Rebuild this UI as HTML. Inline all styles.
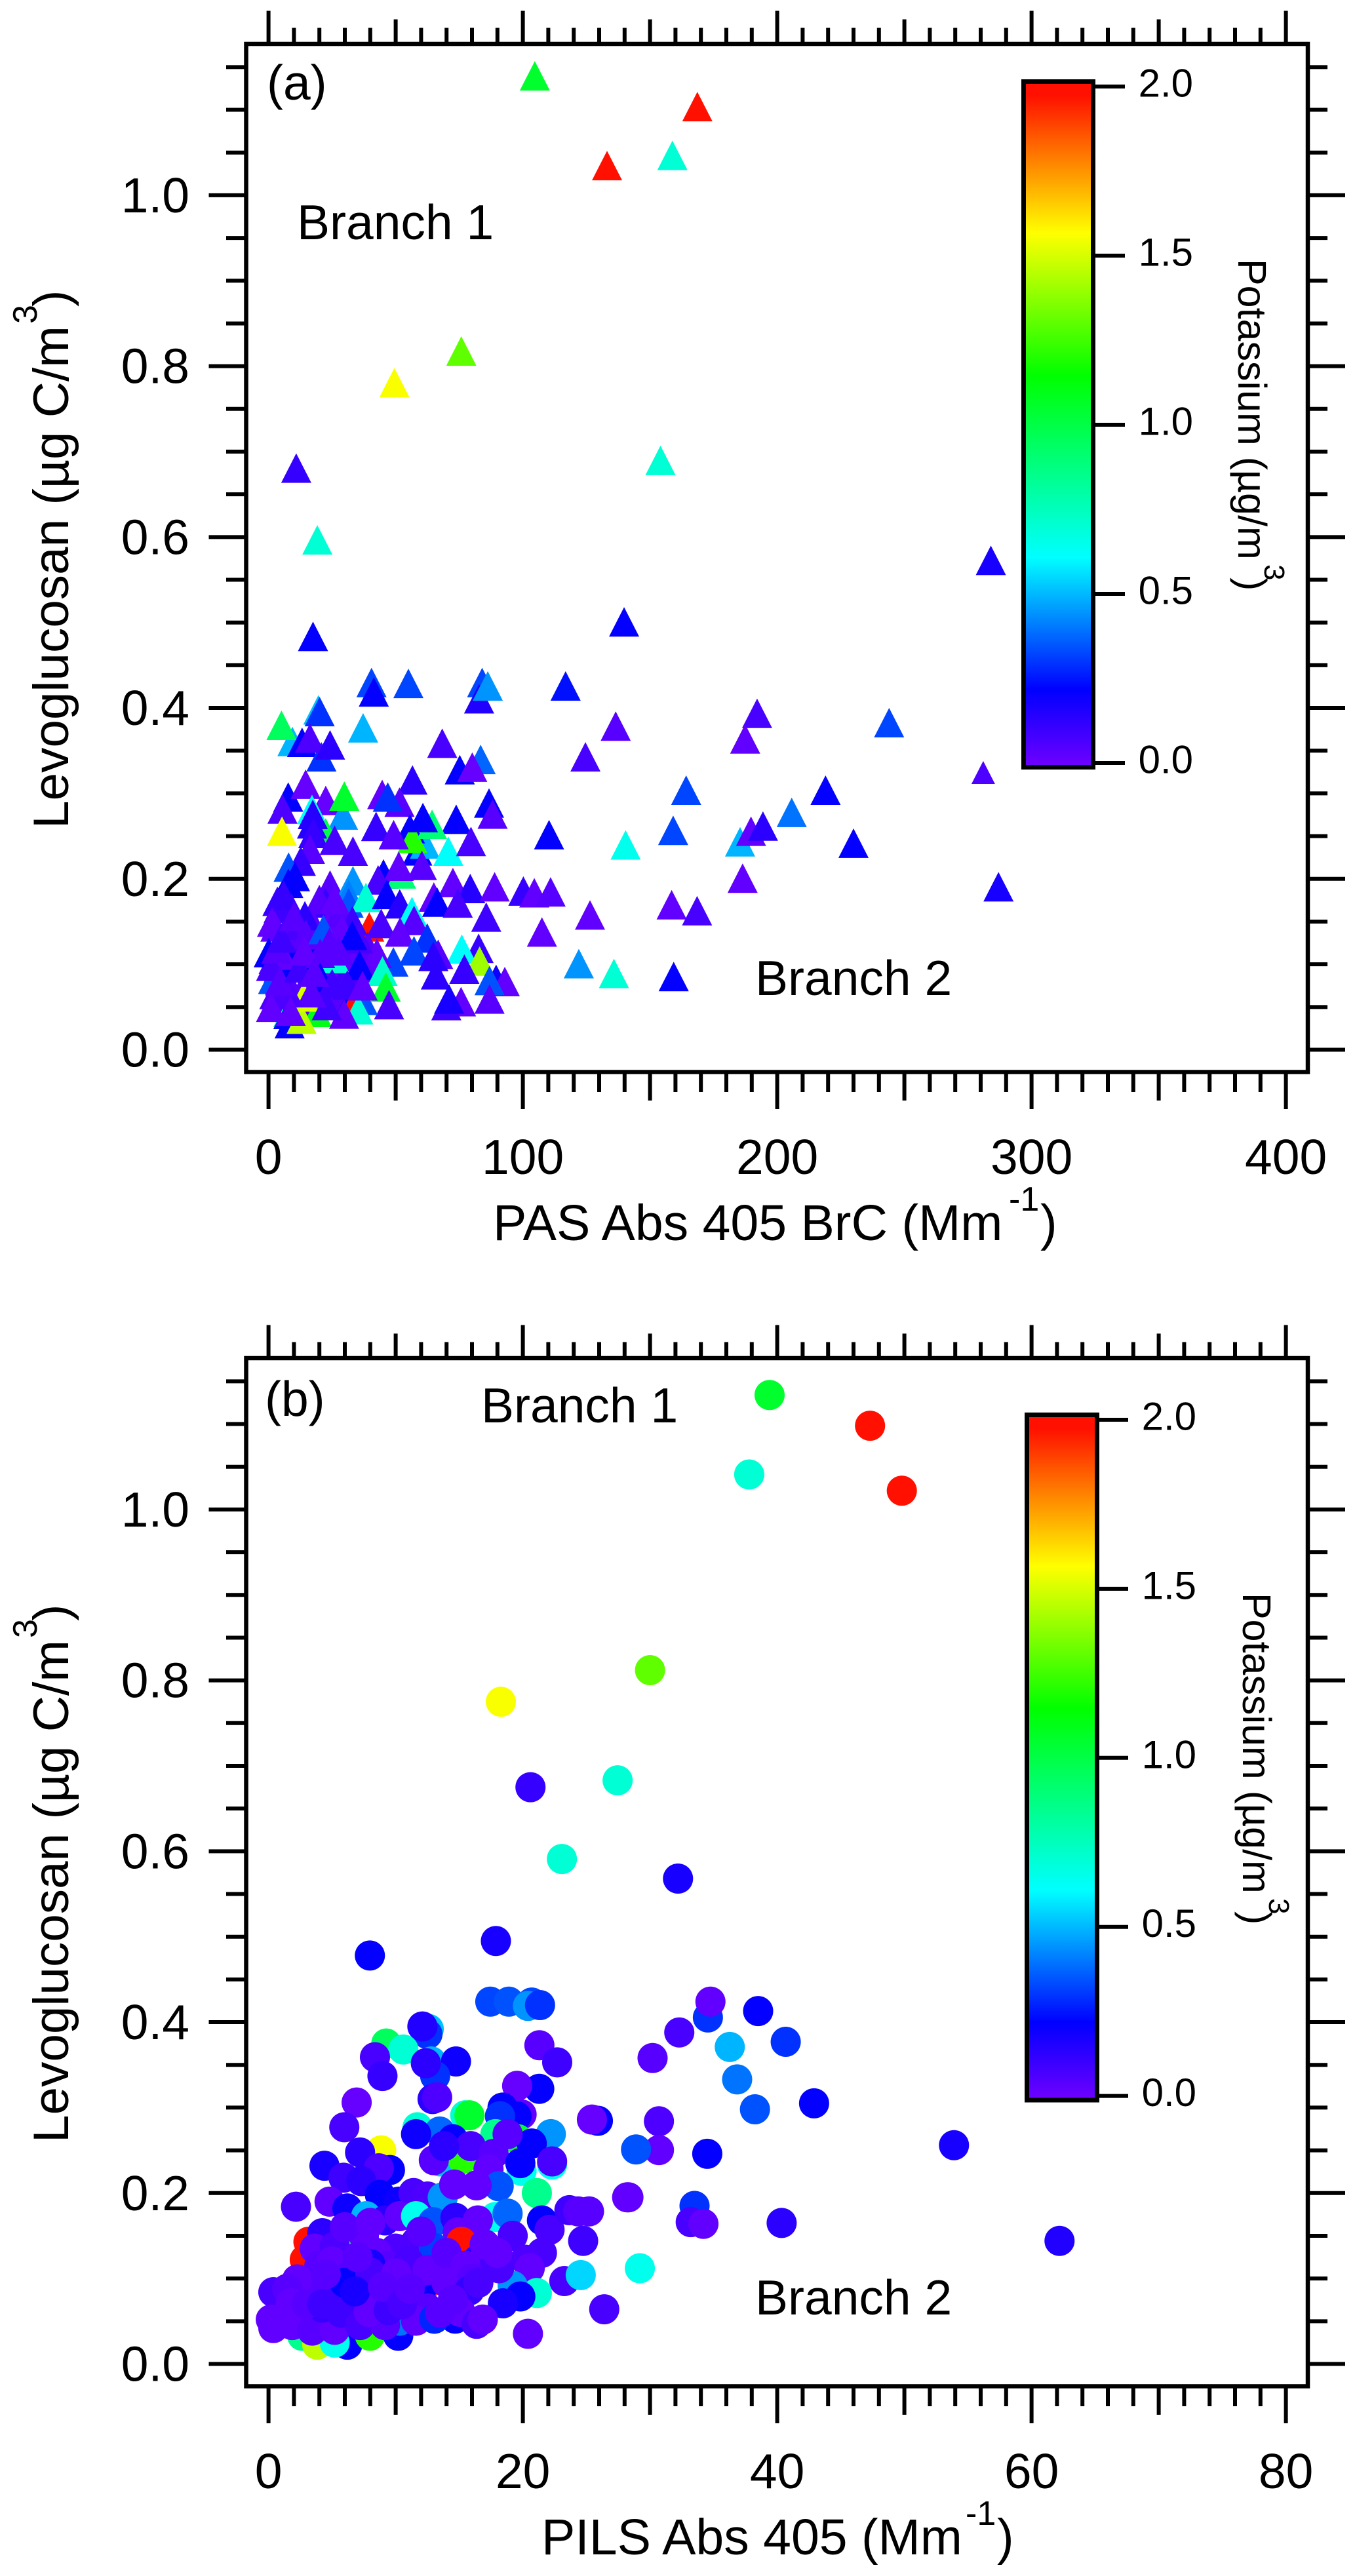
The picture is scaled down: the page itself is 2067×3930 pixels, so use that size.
<!DOCTYPE html>
<html lang="en">
<head>
<meta charset="utf-8">
<title>Levoglucosan vs absorption, coloured by potassium</title>
<style>
  html, body { margin: 0; padding: 0; background: #fff; }
  svg { display: block; }
  text { font-family: "Liberation Sans", "DejaVu Sans", sans-serif; fill: #000; }
</style>
</head>
<body>
<svg id="figure" xmlns="http://www.w3.org/2000/svg" width="2067" height="3930" viewBox="0 0 2067 3930">
  <defs>
    <linearGradient id="rainbow" x1="0" y1="1" x2="0" y2="0">
      <stop offset="0" stop-color="#7000ff"/>
      <stop offset="0.113" stop-color="#0000ff"/>
      <stop offset="0.306" stop-color="#00ffff"/>
      <stop offset="0.5715" stop-color="#00ff00"/>
      <stop offset="0.779" stop-color="#ffff00"/>
      <stop offset="0.98" stop-color="#ff1000"/>
      <stop offset="1" stop-color="#ff1000"/>
    </linearGradient>
  </defs>
  <rect x="0" y="0" width="2067" height="3930" fill="#fff"/>

  <g id="marks-a"></g>
  <g id="axes-a"></g>
  <rect x="1561.5" y="124.5" width="106" height="1046" fill="url(#rainbow)" stroke="#000" stroke-width="7"/>
  <g id="cbar-a"></g>

  <text x="407" y="152" font-size="75">(a)</text>
  <text x="453" y="365" font-size="75">Branch 1</text>
  <text x="1152" y="1518" font-size="75">Branch 2</text>

  <g transform="translate(104,1264) rotate(-90)">
    <text x="0" y="0" font-size="76.5">Levoglucosan (µg C/m</text>
    <text x="770" y="-48" font-size="52">3</text>
    <text x="796" y="0" font-size="76.5">)</text>
  </g>
  <g>
    <text x="752" y="1892" font-size="77">PAS Abs 405 BrC (Mm</text>
    <text x="1539" y="1847" font-size="52">-1</text>
    <text x="1587" y="1892" font-size="77">)</text>
  </g>
  <g transform="translate(1889,395) rotate(90)">
    <text x="0" y="0" font-size="61">Potassium (µg/m</text>
    <text x="466" y="-40" font-size="44">3</text>
    <text x="486" y="0" font-size="61">)</text>
  </g>

  <g id="marks-b"></g>
  <g id="axes-b"></g>
  <rect x="1566.5" y="2158.5" width="107" height="1045.5" fill="url(#rainbow)" stroke="#000" stroke-width="7"/>
  <g id="cbar-b"></g>

  <text x="404" y="2160" font-size="75">(b)</text>
  <text x="734" y="2170" font-size="75">Branch 1</text>
  <text x="1152" y="3531" font-size="75">Branch 2</text>

  <g transform="translate(104,3269) rotate(-90)">
    <text x="0" y="0" font-size="76.5">Levoglucosan (µg C/m</text>
    <text x="770" y="-48" font-size="52">3</text>
    <text x="796" y="0" font-size="76.5">)</text>
  </g>
  <g>
    <text x="826" y="3897" font-size="77">PILS Abs 405 (Mm</text>
    <text x="1473" y="3852" font-size="52">-1</text>
    <text x="1521" y="3897" font-size="77">)</text>
  </g>
  <g transform="translate(1896,2430) rotate(90)">
    <text x="0" y="0" font-size="61">Potassium (µg/m</text>
    <text x="466" y="-40" font-size="44">3</text>
    <text x="486" y="0" font-size="61">)</text>
  </g>
</svg>

<script>
// Panel (a): PAS Abs 405 BrC vs levoglucosan, coloured by potassium
const pasAbs = [
104.7,133.1,168.6,158.8,75.8,49.5,154.1,10.9,19.2,284,
17.5,139.8,40.5,41.4,55,84,82.8,86.2,116.8,19.6,
20.1,9.4,13.2,5.1,20.8,16.3,24.2,37.2,68.3,83.4,
75.2,80.1,124.6,56.6,7.75,14.6,22.5,5.5,44.7,51.5,
29.3,29.8,46.9,17.1,86.7,88.1,73.8,58.5,61.5,55.6,
56.6,64.3,60.7,70.7,79.6,110.3,42.3,49.2,22.5,17.4,
17.1,5.3,17.6,26,16.3,33.2,12.7,7.9,45.2,52.1,
60.3,51.2,10.4,7.8,24.2,33.2,43.1,72.5,79.3,88.9,
100.2,104.5,110.9,65,66.3,74.4,3.5,22.4,31.5,31.5,
38.3,46.5,51.6,85.6,56.4,39.6,57.2,44.3,51.7,107.5,
2,4,6,9,11,13,15,17,19,21,
23,25,27,29,31,33,35,37,39,41,
43,6,10,14,18,22,26,30,3,5,
12,17,24,28,33,9,4,20,26,6,
1.4,2.7,14.3,6.1,0.1,18.1,7.8,25.9,62.4,57.2,
82.6,76,66.7,64.8,49.1,42.6,14.7,21.6,28.9,35.3,
32.9,27.6,20.3,5.4,35.8,44.8,65.8,83,77,89.5,
92.9,86.9,86.9,75.7,69.9,71,46.1,47.4,37.1,32.8,
33.6,35.3,7.8,8.3,7.8,19,13,13.8,1.8,1,
29.7,22.9,20.3,25,31,37,16.9,2.3,7.8,1,
8.7,4.5,12,3,5,10,14,24,18,135.8,
159.3,122,136.5,192.1,187.4,244,281,164.2,219,205.7,
159.1,140.4,185.4,189.7,194.4,230,186.4,126.4,158.5,168.5,
287
];
const levoglucosanA = [
1.134,1.029,1.098,1.041,.812,.775,.684,.675,.591,.567,
.478,.495,.424,.413,.423,.424,.405,.42,.42,.392,
.39,.355,.354,.374,.337,.359,.351,.371,.353,.334,
.322,.325,.337,.31,.29,.305,.286,.276,.293,.284,
.269,.291,.29,.2755,.283,.27,.264,.227,.235,.253,
.2415,.258,.266,.2267,.238,.246,.2556,.246,.248,.2696,
.2586,.25,.2474,.2395,.229,.2267,.215,.208,.2,.2,
.21,.209,.197,.189,.187,.192,.193,.19,.183,.185,
.18,.178,.179,.173,.167,.166,.168,.166,.176,.166,
.1725,.176,.165,.1495,.156,.138,.1456,.142,.132,.132,
.1,.09,.075,.105,.125,.095,.075,.105,.125,.095,
.085,.115,.09,.075,.105,.085,.105,.095,.115,.09,
.105,.13,.06,.05,.06,.06,.05,.055,.06,.05,
.14,.145,.145,.155,.145,.16,.16,.17,.17,.175,
.1436,.138,.151,.1175,.108,.103,.096,.101,.125,.11,
.113,.112,.106,.1035,.097,.107,.129,.135,.135,.124,
.128,.11,.107,.105,.093,.0863,.082,.098,.0886,.0766,
.074,.0753,.0536,.0505,.0459,.0536,.0677,.047,.052,.055,
.0485,.041,.038,.0247,.0357,.038,.03,.056,.0766,.092,
.036,.046,.079,.0715,.07,.069,.061,.059,.061,.044,
.0395,.075,.09,.112,.125,.15,.11,.12,.085,.0835,
.08,.095,.373,.388,.358,.377,.32,.298,.298,.272,
.251,.234,.2376,.25,.256,.236,.195,.152,.164,.157,
.185
];
const potassiumA = [
1.05,2,2,.7,1.3,1.55,.7,.12,.7,.18,
.22,.22,.33,.22,.33,.33,.16,.45,.25,.52,
.3,.5,.22,.95,.3,.07,.14,.5,.08,.38,
.22,.02,.08,.14,.22,.02,.02,.07,.03,.05,
.45,1.05,.3,.62,.22,.05,.22,.22,.5,.22,
1.2,.9,.22,.62,.08,.22,.12,.05,1,.15,
.15,1.55,.12,.08,.05,.08,.12,.35,.22,.9,
.05,.03,.22,.22,.05,.45,.08,.03,.15,.03,
.12,.03,.05,.03,.22,.08,.12,.12,.42,.35,
.7,.22,.15,.1,.62,2,.05,.08,.03,.03,
.05,.03,.08,.05,.1,.03,.05,.12,.03,.08,
.03,.05,.03,.1,.05,.08,.03,.03,.05,.05,
.03,.05,.05,.03,.05,.08,.05,.05,.03,.05,
.08,.05,.03,.05,.1,.08,.1,.05,.03,.12,
.03,.03,.14,.22,.22,.22,.22,.7,.3,.33,
.12,.62,.05,.14,.33,.03,.05,.35,.03,.08,
.22,.05,.05,.03,.22,.72,.14,1.4,.12,.2,
.03,.35,.05,.03,.1,.18,1.05,.08,.35,.22,
2,.7,.72,.22,.22,1.1,1.45,1.5,.35,.08,
.03,.1,.22,.1,.1,.03,.05,.07,.07,.03,
.03,.05,.1,.05,.1,.05,.03,.05,.05,.7,
.22,.45,.05,.08,.03,.33,.07,.33,.22,.4,
.33,.65,.5,.03,.14,.22,.03,.03,.03,.08,
.18
];

// Panel (b): PILS Abs 405 vs levoglucosan, coloured by potassium
const pilsAbs = [
39.4,47.3,37.8,49.8,18.27,30,20.6,27.45,23.07,32.2,
7.97,17.88,17.44,18.9,20.7,20.4,21.35,12.6,12.5,12.1,
9.26,10.6,8.37,8.96,12.8,14.74,13.1,12.37,21.3,22.7,
21.29,19.55,12.9,13.26,6.93,5.96,11.72,13.46,11.6,15.47,
15.8,25.9,25.43,22.2,19.9,19.5,18.4,18.2,17.84,19.6,
20.7,22.3,22.3,18.8,8.86,7.2,4.4,9.55,8.67,5.9,
7.3,14.5,13.5,15.27,15.9,13,13.8,17.7,19.9,19.8,
17.3,21.1,18.1,28.3,8.76,10.24,11.4,12.5,13.7,16.36,
14.6,2.16,4.8,6.2,7.68,9.16,10.3,11.6,12.95,14.7,
17.84,18.8,16.46,14.88,21.5,22.1,23.66,24.35,25.2,24.74,
3.14,2.85,6.2,15.17,4.23,3.64,5.2,7.5,11.6,10,
13,19.2,21.5,20.2,20.54,23.26,24.55,21.1,19.2,19.8,
18.43,17.25,16.46,18.13,16.65,13.9,12.1,12.3,11.6,14.5,
4,5,6.5,8.5,9.5,11,12.5,14,15.5,3.5,
5.5,7.5,9.5,12.5,14,16,6,8,12,17,
18,2,3,6,8,10,
8,6,8,10.05,15.8,11.1,2.26,.38,1.47,1.76,
2.65,3.83,6.2,5.2,7.98,10.2,.18,.38,1.86,3.44,
5.2,4.23,5.7,7.2,10.3,9.16,7.88,9.45,11.6,13.04,
14.68,15.08,13.04,16.36,16.85,20.4,26.4,34.55,34.75,38.5,
32.3,40.67,36.27,30.2,36.85,38.25,42.9,30.7,30.7,28.9,
34.5,53.9,28.2,33.5,33.2,34.2,40.35,62.2,29.2,3,
6.8,9,4.5,7,14.5,16.5,4.23,10.5,11.1,13.5
];
const levoglucosanB = [
1.134,1.098,1.041,1.022,.775,.812,.675,.683,.591,.568,
.478,.495,.424,.424,.423,.419,.42,.392,.386,.395,
.375,.368,.359,.337,.354,.354,.337,.352,.373,.353,
.322,.3255,.31,.312,.306,.277,.277,.272,.269,.291,
.291,.2846,.286,.269,.292,.29,.3,.29,.269,.263,
.258,.2334,.237,.269,.25,.2475,.232,.227,.229,.218,
.214,.263,.237,.24,.255,.2385,.255,.246,.226,.235,
.228,.2,.208,.195,.198,.19,.2,.196,.195,.209,
.21,.184,.19,.182,.173,.168,.173,.173,.166,.171,
.172,.176,.168,.154,.168,.157,.18,.1785,.1785,.144,
.143,.122,.145,.143,.153,.135,.1375,.15,.143,.135,
.136,.15,.13,.122,.112,.097,.104,.083,.0915,.079,
.071,.125,.122,.112,.113,.113,.086,.094,.104,.084,
.115,.12,.105,.13,.115,.12,.11,.13,.115,.085,
.075,.08,.075,.065,.095,.1,.16,.165,.155,.14,
.13,.065,.055,.05,.055,.06,
.117,.095,.107,.106,.086,.076,.099,.084,.088,.071,
.033,.0225,.0225,.025,.033,.033,.052,.042,.0455,.039,
.04,.066,.06,.0455,.0506,.0455,.061,.063,.0506,.053,
.053,.061,.053,.047,.052,.0353,.064,.4055,.424,.413,
.388,.377,.371,.358,.333,.298,.305,.284,.2503,.251,
.246,.256,.195,.185,.166,.164,.165,.144,.112,.07,
.085,.09,.105,.125,.075,.095,.07,.07,.088,.06
];
const potassiumB = [
1.05,2,.7,2,1.55,1.3,.12,.7,.7,.18,
.22,.18,.33,.35,.33,.45,.3,.52,.3,.16,
.95,.7,.08,.12,.5,.2,.3,.14,.05,.1,
.22,.02,.14,.07,.02,.08,.7,.38,.2,.7,
1.05,.22,.02,.45,.03,.22,.22,.3,.85,1.05,
.22,.62,.08,.05,1.55,.14,.18,.22,.07,.1,
.14,.22,.52,1.2,.08,.05,.14,.05,.65,.22,
.03,.85,.35,.03,.22,.2,.08,.07,.45,.03,
.03,.08,.03,.2,.5,.14,.03,.65,.35,.14,
.65,.38,.03,.03,.22,.08,.1,.05,.05,.1,
2,2,1,2,.14,.03,.07,.03,.08,.07,
.32,.08,.08,.07,.03,.08,.55,.7,.45,.22,
.18,.22,.16,.08,.08,.05,2,.22,.08,1.45,
.05,.03,.05,.03,.05,.08,.03,.05,.03,.05,
.1,.03,.08,.05,.03,.05,.05,.03,.05,.03,
.03,.03,.05,.08,.05,.03,
.18,.22,.08,.03,.12,.05,.03,.08,.05,.03,
.85,1.45,.22,.65,1.2,.22,.03,.03,.03,.05,
.03,.12,.1,.08,.4,.05,.03,.1,.03,.3,
.22,.03,.28,.08,.03,.03,.08,.3,.03,.22,
.08,.3,.5,.05,.4,.35,.22,.07,.03,.35,
.22,.18,.03,.3,.08,.03,.14,.16,.65,.05,
.18,.05,.05,.05,.05,.08,.1,.08,.05,.05
];

// Axis tick values
const pasTickLabels = ["0", "100", "200", "300", "400"];
const pilsTickLabels = ["0", "20", "40", "60", "80"];
const levoTickLabels = ["0.0", "0.2", "0.4", "0.6", "0.8", "1.0"];
const potassiumTickLabels = ["0.0", "0.5", "1.0", "1.5", "2.0"];

const SVG_NS = "http://www.w3.org/2000/svg";
const COLOR_K = [0, 0.226, 0.612, 1.143, 1.558, 1.96];
const COLOR_RGB = [[112,0,255],[0,0,255],[0,255,255],[0,255,0],[255,255,0],[255,16,0]];
// The one point in panel (a) plotted with a smaller marker in the source figure
const SMALL_MARKER_INDEX = 216;

function potassiumColor(k) {
  const v = Math.max(0, Math.min(k, COLOR_K[COLOR_K.length - 1]));
  let i = 0;
  while (i < COLOR_K.length - 2 && v > COLOR_K[i + 1]) i++;
  const f = (v - COLOR_K[i]) / (COLOR_K[i + 1] - COLOR_K[i]);
  const c = COLOR_RGB[i].map((a, j) => Math.round(a + (COLOR_RGB[i + 1][j] - a) * f));
  return "rgb(" + c.join(",") + ")";
}

function makeLine(parent, x1, y1, x2, y2, w) {
  const el = document.createElementNS(SVG_NS, "line");
  el.setAttribute("x1", x1);
  el.setAttribute("y1", y1);
  el.setAttribute("x2", x2);
  el.setAttribute("y2", y2);
  el.setAttribute("stroke", "#000");
  el.setAttribute("stroke-width", w);
  parent.appendChild(el);
  return el;
}

function makeText(parent, x, y, str, size, anchor) {
  const el = document.createElementNS(SVG_NS, "text");
  el.setAttribute("x", x);
  el.setAttribute("y", y);
  el.setAttribute("font-size", size);
  el.setAttribute("text-anchor", anchor);
  el.textContent = str;
  parent.appendChild(el);
  return el;
}

const PLOT_LEFT = 375.5, PLOT_RIGHT = 1995, X_ZERO = 409.6, X_SPAN = 1552;
const Y_UNIT = 1303.6, Y_ZERO_A = 1601.5, PLOT_TOP_A = 67, PLOT_BOTTOM_A = 1635.5;

function drawAxes(group, dy, xLabels, xMax) {
  const xScale = v => X_ZERO + v / xMax * X_SPAN;
  const yScale = v => Y_ZERO_A + dy - v * Y_UNIT;
  const top = PLOT_TOP_A + dy, bottom = PLOT_BOTTOM_A + dy;

  const frame = document.createElementNS(SVG_NS, "rect");
  frame.setAttribute("x", PLOT_LEFT);
  frame.setAttribute("y", top);
  frame.setAttribute("width", PLOT_RIGHT - PLOT_LEFT);
  frame.setAttribute("height", bottom - top);
  frame.setAttribute("fill", "none");
  frame.setAttribute("stroke", "#000");
  frame.setAttribute("stroke-width", "6.5");
  
  
  group.appendChild(frame);

  // x ticks: 40 minor divisions, every 5th medium, every 10th major
  const step = xMax / 40;
  for (let i = 0; i <= 40; i++) {
    const x = xScale(i * step);
    const len = i % 10 === 0 ? 56.5 : (i % 5 === 0 ? 43.5 : 30.5);
    const upper = makeLine(group, x, top, x, top - len + 6, 6);
    
    
    const lower = makeLine(group, x, bottom, x, bottom + len, 6);
    
    
  }
  xLabels.forEach(s => {
    const label = makeText(group, xScale(Number(s)), 1791 + dy, s, 75, "middle");
    
    
  });

  // y ticks: every 0.05 up to 1.15, major every 0.2
  for (let i = 0; i <= 23; i++) {
    const y = yScale(i * 0.05);
    const major = i % 4 === 0;
    const left = makeLine(group, PLOT_LEFT, y, PLOT_LEFT - (major ? 57 : 30.5), y, 6);
    
    
    const right = makeLine(group, PLOT_RIGHT, y, PLOT_RIGHT + (major ? 57 : 30), y, 6);
    
    
  }
  levoTickLabels.forEach(s => {
    const label = makeText(group, 289, yScale(Number(s)) + 26, s, 75, "end");
    
    
  });
}

function drawColorbarAxis(group, yAtZero, yUnit, xLeft, xTickEnd, xLabelEnd) {
  potassiumTickLabels.forEach(s => {
    const y = yAtZero - Number(s) * yUnit;
    const tick = makeLine(group, xLeft, y, xTickEnd, y, 6);
    
    
    const label = makeText(group, xLabelEnd, y + 15.5, s, 60, "end");
    
    
  });
}

function drawTriangles(group, xs, ys, ks) {
  const xScale = v => X_ZERO + v / 400 * X_SPAN;
  const yScale = v => Y_ZERO_A - v * Y_UNIT;
  xs.forEach((v, i) => {
    const cx = xScale(v), cy = yScale(ys[i]);
    const s = i === SMALL_MARKER_INDEX ? 0.78 : 1;
    const el = document.createElementNS(SVG_NS, "polygon");
    el.setAttribute("points", cx + "," + (cy - 30 * s) + " " + (cx + 23 * s) + "," + (cy + 15 * s) + " " + (cx - 23 * s) + "," + (cy + 15 * s));
    el.setAttribute("fill", potassiumColor(ks[i]));
    
    
    group.appendChild(el);
  });
}

function drawCircles(group, xs, ys, ks, dy) {
  const xScale = v => X_ZERO + v / 80 * X_SPAN;
  const yScale = v => Y_ZERO_A + dy - v * Y_UNIT;
  xs.forEach((v, i) => {
    const el = document.createElementNS(SVG_NS, "circle");
    el.setAttribute("cx", xScale(v));
    el.setAttribute("cy", yScale(ys[i]));
    el.setAttribute("r", 23);
    el.setAttribute("fill", potassiumColor(ks[i]));
    
    
    group.appendChild(el);
  });
}

drawTriangles(document.getElementById("marks-a"), pasAbs, levoglucosanA, potassiumA);
drawAxes(document.getElementById("axes-a"), 0, pasTickLabels, 400);
drawColorbarAxis(document.getElementById("cbar-a"), 1164, 516, 1671, 1716, 1820);

drawCircles(document.getElementById("marks-b"), pilsAbs, levoglucosanB, potassiumB, 2005);
drawAxes(document.getElementById("axes-b"), 2005, pilsTickLabels, 80);
drawColorbarAxis(document.getElementById("cbar-b"), 3197.6, 515.8, 1677, 1721, 1825);
</script>
</body>
</html>
